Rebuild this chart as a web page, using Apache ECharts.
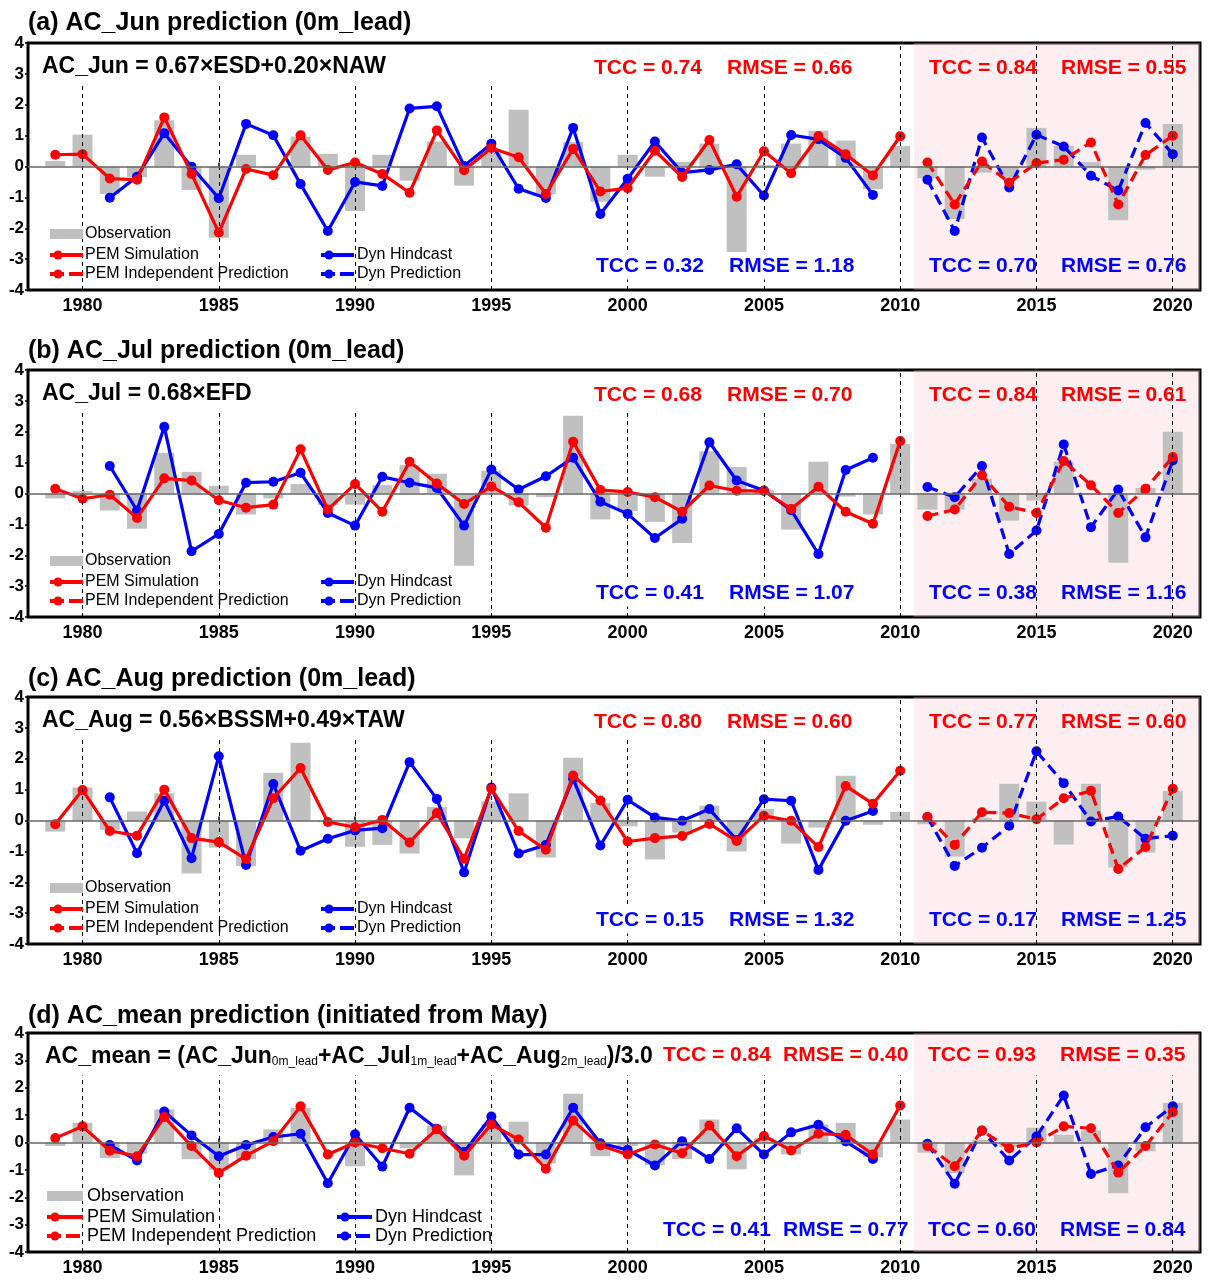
<!DOCTYPE html>
<html>
<head>
<meta charset="UTF-8">
<title>AC prediction</title>
<script src="https://cdn.jsdelivr.net/npm/echarts@6/dist/echarts.min.js"></script>
<style>
  body { margin:0px; background:#fff; }
  #main { width:1214px; height:1285px; }
</style>
</head>
<body>
<div id="main"></div>
<script>
// years of each series
var obsStart = 1979, pemStart = 1979, dynStart = 1981, predStart = 2011;
var tickYears = [1980, 1985, 1990, 1995, 2000, 2005, 2010, 2015, 2020];

// (a) June
var obsJun = [0.18, 1.03, -0.89, -0.35, 1.5, -0.76, -2.31, 0.38, -0.05, 0.97,
  0.41, -1.44, 0.38, -0.46, 0.81, -0.62, 0.45, 1.84, -0.9, 0.79,
  -1.14, 0.38, -0.33, 0.15, 0.74, -2.77, 0.05, 0.74, 1.16, 0.84,
  -0.73, 0.67, -0.38, -1.7, -0.2, -0.35, 1.25, 0.67, 0.14, -1.74,
  -0.1, 1.38];
var pemJun = [0.38, 0.4, -0.39, -0.43, 1.59, -0.24, -2.14, -0.08, -0.28, 1.01,
  -0.11, 0.13, -0.24, -0.85, 1.17, -0.12, 0.6, 0.3, -0.89, 0.57,
  -0.81, -0.7, 0.51, -0.34, 0.86, -0.98, 0.49, -0.22, 0.99, 0.4,
  -0.29, 0.98];
var pemPredJun = [0.13, -1.23, 0.16, -0.52, 0.11, 0.22, 0.78, -1.23, 0.37, 1.0];
var dynJun = [-1.01, -0.33, 1.08, -0.01, -1.03, 1.38, 1.01, -0.57, -2.09, -0.5,
  -0.63, 1.88, 1.95, 0.02, 0.74, -0.72, -1.02, 1.25, -1.54, -0.4,
  0.81, -0.2, -0.11, 0.07, -0.94, 1.02, 0.88, 0.28, -0.92];
var dynPredJun = [-0.43, -2.09, 0.94, -0.68, 1.03, 0.65, -0.3, -0.78, 1.41, 0.4];

// (b) July
var obsJul = [-0.16, 0.08, -0.55, -1.14, 1.32, 0.7, 0.25, -0.68, -0.16, 0.31,
  -0.38, -0.36, 0.27, 0.92, 0.64, -2.34, 0.74, -0.39, -0.12, 2.52,
  -0.84, -0.57, -0.92, -1.6, 1.37, 0.86, 0.11, -1.17, 1.03, -0.1,
  -0.68, 1.61, -0.52, -0.52, 0.48, -0.88, -0.23, 1.03, -0.05, -2.24,
  0.18, 2.0];
var pemJul = [0.15, -0.17, -0.04, -0.79, 0.49, 0.42, -0.22, -0.46, -0.36, 1.43,
  -0.52, 0.31, -0.59, 1.03, 0.32, -0.34, 0.23, -0.28, -1.11, 1.68,
  0.11, 0.05, -0.12, -0.59, 0.26, 0.09, 0.08, -0.5, 0.22, -0.59,
  -0.98, 1.7];
var pemPredJul = [-0.73, -0.52, 0.59, -0.43, -0.63, 1.05, 0.27, -0.63, 0.15, 1.18];
var dynJul = [0.89, -0.55, 2.16, -1.87, -1.31, 0.35, 0.38, 0.67, -0.63, -1.04,
  0.54, 0.35, 0.18, -1.04, 0.78, 0.13, 0.56, 1.16, -0.27, -0.66,
  -1.44, -0.82, 1.66, 0.42, 0.1, -0.54, -1.96, 0.76, 1.16];
var dynPredJul = [0.21, -0.12, 0.89, -1.96, -1.2, 1.59, -1.09, 0.13, -1.42, 1.07];

// (c) August
var obsAug = [-0.36, 1.07, -0.3, 0.29, 0.88, -1.72, -0.88, -1.47, 1.55, 2.52,
  -0.05, -0.85, -0.79, -1.07, 0.44, -0.58, 0.62, 0.88, -1.2, 2.03,
  0.57, -0.19, -1.26, -0.39, 0.48, -1.0, 0.38, -0.75, -0.23, 1.45,
  -0.14, 0.28, -0.12, -1.17, 0.08, 1.19, 0.61, -0.78, 1.19, -1.52,
  -1.04, 0.96];
var pemAug = [-0.12, 0.99, -0.34, -0.49, 1.0, -0.57, -0.7, -1.25, 0.72, 1.7,
  -0.05, -0.22, 0.02, -0.71, 0.24, -1.24, 1.03, -0.34, -0.95, 1.46,
  0.65, -0.68, -0.57, -0.5, -0.11, -0.66, 0.15, -0.01, -0.86, 1.12,
  0.54, 1.61];
var pemPredAug = [0.11, -0.79, 0.27, 0.24, 0.04, 0.72, 0.96, -1.57, -0.86, 1.03];
var dynAug = [0.75, -1.06, 0.64, -1.22, 2.08, -1.44, 1.18, -0.98, -0.59, -0.32,
  -0.25, 1.89, 0.7, -1.68, 1.07, -1.07, -0.79, 1.35, -0.81, 0.67,
  0.1, -0.01, 0.37, -0.63, 0.69, 0.64, -1.6, -0.01, 0.31];
var dynPredAug = [0.11, -1.47, -0.88, -0.17, 2.24, 1.21, -0.03, 0.13, -0.59, -0.49];

// (d) mean
var obsMean = [-0.13, 0.72, -0.57, -0.41, 1.21, -0.61, -1.0, -0.61, 0.48, 1.27,
  -0.05, -0.87, -0.05, -0.21, 0.61, -1.2, 0.68, 0.76, -0.76, 1.78,
  -0.5, -0.13, -0.83, -0.61, 0.84, -0.98, 0.17, -0.44, 0.66, 0.72,
  -0.54, 0.84, -0.37, -1.12, 0.1, -0.17, 0.54, 0.28, 0.44, -1.85,
  -0.32, 1.45];
var pemMean = [0.16, 0.59, -0.3, -0.5, 0.93, -0.13, -1.11, -0.48, 0.05, 1.32,
  -0.44, 0.0, -0.21, -0.41, 0.48, -0.48, 0.66, 0.11, -0.96, 0.8,
  -0.11, -0.44, -0.07, -0.39, 0.62, -0.5, 0.24, -0.29, 0.32, 0.28,
  -0.44, 1.35];
var pemPredMean = [-0.13, -0.87, 0.43, -0.21, 0.0, 0.59, 0.52, -1.1, -0.13, 1.11];
var dynMean = [-0.09, -0.66, 1.13, 0.26, -0.5, -0.09, 0.2, 0.32, -1.49, 0.3,
  -0.88, 1.27, 0.5, -0.35, 0.95, -0.44, -0.44, 1.27, -0.03, -0.27,
  -0.84, 0.05, -0.6, 0.52, -0.44, 0.37, 0.65, 0.04, -0.6];
var dynPredMean = [-0.05, -1.51, 0.44, -0.66, 0.22, 1.72, -1.15, -0.84, 0.56, 1.32];

// texts
var titles = ['(a) AC_Jun prediction (0m_lead)', '(b) AC_Jul prediction (0m_lead)',
  '(c) AC_Aug prediction (0m_lead)', '(d) AC_mean prediction (initiated from May)'];
var formulas = ['AC_Jun = 0.67×ESD+0.20×NAW', 'AC_Jul = 0.68×EFD', 'AC_Aug = 0.56×BSSM+0.49×TAW', ''];
var pemScores = [['0.74', '0.66', '0.84', '0.55'], ['0.68', '0.70', '0.84', '0.61'],
  ['0.80', '0.60', '0.77', '0.60'], ['0.84', '0.40', '0.93', '0.35']];
var dynScores = [['0.32', '1.18', '0.70', '0.76'], ['0.41', '1.07', '0.38', '1.16'],
  ['0.15', '1.32', '0.17', '1.25'], ['0.41', '0.77', '0.60', '0.84']];
var legendNames = ['Observation', 'PEM Simulation', 'PEM Independent Prediction', 'Dyn Hindcast', 'Dyn Prediction'];

var FONT = '"Liberation Sans", Arial, Helvetica, sans-serif';
var RED = '#ff0000', BLUE = '#0000ff', GRAY = '#c0c0c0';

// panel layout (px)
var gridTop = [43, 370, 697, 1033];
var gridH = [247, 247, 247, 219];
var titleY = [23, 351, 679, 1016];

function pairs(start, vals) {
  var out = [];
  for (var i = 0; i < vals.length; i++) out.push([start + i, vals[i]]);
  return out;
}

var panels = [
  [obsJun, pemJun, pemPredJun, dynJun, dynPredJun],
  [obsJul, pemJul, pemPredJul, dynJul, dynPredJul],
  [obsAug, pemAug, pemPredAug, dynAug, dynPredAug],
  [obsMean, pemMean, pemPredMean, dynMean, dynPredMean]
];

var grids = [], xAxes = [], yAxes = [], series = [], graphics = [];

for (var p = 0; p < 4; p++) {
  grids.push({left: 28, width: 1172, top: gridTop[p], height: gridH[p],
    show: true, borderColor: '#000', borderWidth: 3, backgroundColor: 'transparent'});
  xAxes.push({
    gridIndex: p, type: 'value', min: 1978, max: 2021,
    axisLine: {show: false}, splitLine: {show: false},
    axisTick: {show: true, inside: true, length: 4, customValues: tickYears, lineStyle: {color: '#000', width: 1.5}},
    axisLabel: {customValues: tickYears, color: '#000', fontFamily: FONT, fontWeight: 'bold', fontSize: 18, margin: 7,
      formatter: function (v) { return String(v); }}
  });
  yAxes.push({
    gridIndex: p, type: 'value', min: -4, max: 4, interval: 1,
    axisLine: {show: false}, splitLine: {show: false},
    axisTick: {show: true, length: 3, lineStyle: {color: '#000', width: 1.5}},
    axisLabel: {color: '#000', fontFamily: FONT, fontWeight: 'bold', fontSize: 17, margin: 4}
  });

  var d = panels[p];
  // vertical dashed guide lines and zero line
  var vlines = [];
  for (var t = 0; t < tickYears.length; t++) {
    var yr = tickYears[t];
    var topV = (p < 3 && yr >= 2010) ? 4 : (p < 3 ? 2.65 : 2.45);
    vlines.push([{coord: [yr, -4]}, {coord: [yr, topV]}]);
  }
  vlines.push({yAxis: 0, lineStyle: {type: 'solid', color: '#666', width: 1.5}});

  series.push({
    type: 'bar', xAxisIndex: p, yAxisIndex: p, data: pairs(obsStart, d[0]),
    barWidth: 20, itemStyle: {color: GRAY}, z: 1, silent: true
  });
  series.push({
    type: 'line', xAxisIndex: p, yAxisIndex: p, data: [], z: 2, silent: true,
    markArea: {silent: true, itemStyle: {color: 'rgba(250,200,210,0.3)'},
      data: [[{xAxis: 2010.5}, {xAxis: 2021}]]},
    markLine: {silent: true, symbol: 'none', label: {show: false},
      lineStyle: {color: '#000', width: 1, type: [4, 4]}, data: vlines}
  });
  var lineDefs = [
    [pairs(dynStart, d[3]), BLUE, 'solid', 3],
    [pairs(predStart, d[4]), BLUE, [11, 6], 3],
    [pairs(pemStart, d[1]), RED, 'solid', 4],
    [pairs(predStart, d[2]), RED, [11, 6], 4]
  ];
  lineDefs.forEach(function (ld) {
    series.push({
      type: 'line', xAxisIndex: p, yAxisIndex: p, data: ld[0],
      symbol: 'circle', symbolSize: 10, z: ld[3], silent: true,
      itemStyle: {color: ld[1]},
      lineStyle: {color: ld[1], width: 3.2, type: ld[2]}
    });
  });

  // title
  graphics.push({type: 'text', x: 28, y: titleY[p], z: 100,
    style: {text: titles[p], font: 'bold 25px ' + FONT, fill: '#000', verticalAlign: 'middle'}});

  var gTop = gridTop[p], gBottom = gridTop[p] + gridH[p];
  // formula
  if (p < 3) {
    graphics.push({type: 'text', x: 42, y: gTop + 24, z: 100,
      style: {text: formulas[p], font: 'bold 23px ' + FONT, fill: '#000', verticalAlign: 'middle'}});
  } else {
    graphics.push({type: 'text', x: 45, y: gTop + 22, z: 100,
      style: {
        text: '{b|AC_mean = (AC_Jun}{s|0m_lead}{b|+AC_Jul}{s|1m_lead}{b|+AC_Aug}{s|2m_lead}{b|)/3.0}',
        verticalAlign: 'middle',
        rich: {
          b: {font: 'bold 23px ' + FONT, fill: '#000', lineHeight: 26, verticalAlign: 'bottom'},
          s: {font: '12px ' + FONT, fill: '#000', lineHeight: 26, verticalAlign: 'bottom'}
        }
      }});
  }
  // scores
  var sx = p < 3 ? [594, 727, 929, 1061] : [663, 783, 928, 1060];
  var tyTop = p < 3 ? gTop + 25 : gTop + 22;
  var tyBot = p < 3 ? gBottom - 24 : gBottom - 22;
  for (var k = 0; k < 4; k++) {
    var lab = (k % 2 === 0 ? 'TCC = ' : 'RMSE = ');
    var topStyle = {text: lab + pemScores[p][k], font: 'bold 21px ' + FONT, fill: RED, verticalAlign: 'middle'};
    var botStyle = {text: lab + dynScores[p][k], font: 'bold 21px ' + FONT, fill: BLUE, verticalAlign: 'middle'};
    if (k < 2 && p < 3) {
      botStyle.backgroundColor = '#fff';
      botStyle.padding = [3, 2, 3, 2];
    }
    graphics.push({type: 'text', x: sx[k], y: tyTop, z: 100, style: topStyle});
    graphics.push({type: 'text', x: sx[k], y: tyBot, z: 100, style: botStyle});
  }

  // legend
  var big = p === 3;
  var fs = big ? 18 : 16;
  var c1a = big ? 47 : 50, c1b = 83, c1t = big ? 87 : 85;
  var c2a = big ? 337 : 321, c2b = big ? 372 : 354, c2t = big ? 375 : 357;
  var ly = [gBottom - 56, gBottom - 35, gBottom - 16];
  var lfont = fs + 'px ' + FONT;
  graphics.push({type: 'rect', z: 100, shape: {x: c1a, y: ly[0] - 5, width: c1b - c1a, height: 10}, style: {fill: GRAY}});
  graphics.push({type: 'text', x: c1t, y: ly[0], z: 100, style: {text: legendNames[0], font: lfont, fill: '#000', verticalAlign: 'middle'}});
  var legItems = [
    [c1a, c1b, c1t, ly[1], RED, null, legendNames[1]],
    [c1a, c1b, c1t, ly[2], RED, [14, 5], legendNames[2]],
    [c2a, c2b, c2t, ly[1], BLUE, null, legendNames[3]],
    [c2a, c2b, c2t, ly[2], BLUE, [14, 5], legendNames[4]]
  ];
  legItems.forEach(function (li) {
    graphics.push({type: 'line', z: 100, shape: {x1: li[0], y1: li[3], x2: li[1], y2: li[3]},
      style: {stroke: li[4], lineWidth: 4, lineDash: li[5]}});
    graphics.push({type: 'circle', z: 101, shape: {cx: li[0] + 8, cy: li[3], r: 4.5}, style: {fill: li[4]}});
    graphics.push({type: 'text', x: li[2], y: li[3], z: 100,
      style: {text: li[6], font: lfont, fill: '#000', verticalAlign: 'middle'}});
  });
}

var myChart = echarts.init(document.getElementById('main'));
myChart.setOption({
  animation: false,
  backgroundColor: '#fff',
  grid: grids,
  xAxis: xAxes,
  yAxis: yAxes,
  series: series,
  graphic: {elements: graphics}
});
</script>
</body>
</html>
